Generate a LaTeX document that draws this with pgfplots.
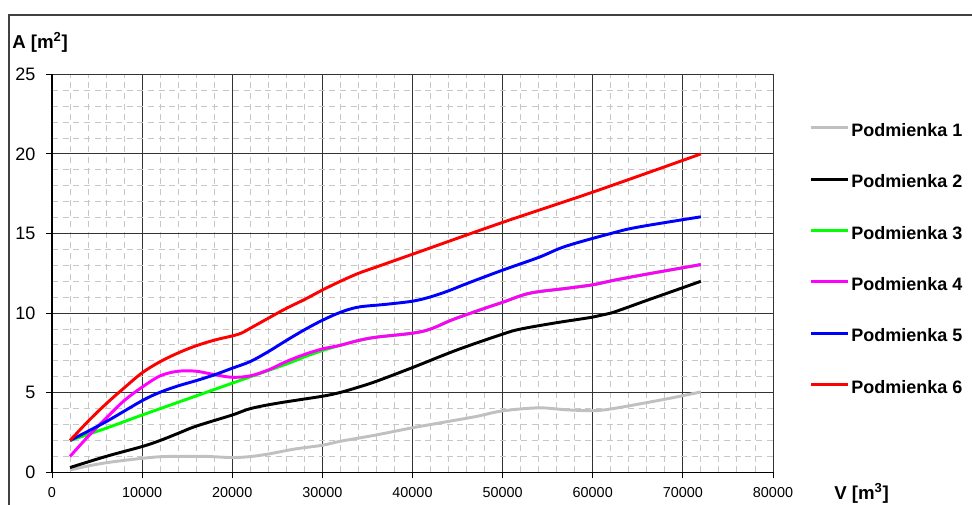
\documentclass[border=0pt]{standalone}
\usepackage{pgfplots}
\pgfplotsset{compat=1.18}
\usepackage{fontspec}
\setmainfont{Liberation Sans}
\definecolor{pgray}{RGB}{192,192,192}
\definecolor{pgreen}{RGB}{0,255,0}
\definecolor{pmag}{RGB}{255,0,255}
\definecolor{pblue}{RGB}{0,0,255}
\definecolor{pred}{RGB}{255,0,0}
\begin{document}
\begin{tikzpicture}
\useasboundingbox (0,0) rectangle (729pt,378.75pt);
\draw[black!75, line width=1.4pt] (6.75pt,-5pt) -- (6.75pt,367.5pt) -- (740pt,367.5pt);
\begin{axis}[
  at={(39pt,24.5pt)}, anchor=south west,
  scale only axis, width=540.75pt, height=298.5pt,
  xmin=0, xmax=80000, ymin=0, ymax=25,
  xtick={0,10000,...,80000}, ytick={0,5,...,25},
  minor x tick num=4, minor y tick num=4,
  grid=both,
  major grid style={black!80, line width=0.7pt},
  minor grid style={black!22, line width=0.7pt, dash pattern=on 4.5pt off 3.5pt},
  axis x line*=bottom, axis y line*=left,
  axis line style={black, line width=0.9pt, -},
  tick align=outside, major tick length=4.5pt, minor tick length=0pt,
  tick style={black, line width=0.7pt},
  scaled x ticks=false,
  /pgf/number format/assume math mode=true,
  xticklabel={\pgfmathprintnumber[1000 sep={}]{\tick}},
  x tick label style={font=\fontsize{10.8}{12}\selectfont, yshift=-3pt},
  y tick label style={font=\fontsize{13.5}{15}\selectfont, xshift=-4.5pt},
  xlabel={V [m\textsuperscript{3}]},
  ylabel={A [m\textsuperscript{2}]},
  xlabel style={at={(rel axis cs:1.0846,-0.052)}, anchor=west, font=\fontsize{14}{16}\selectfont\bfseries, inner sep=0pt},
  ylabel style={at={(rel axis cs:-0.0555,1.081)}, anchor=west, rotate=-90, font=\fontsize{14}{16}\selectfont\bfseries, inner sep=0pt},
  legend cell align=left,
  legend style={at={(rel axis cs:1.0505,0.877)}, anchor=north west, draw=none, fill=none, inner sep=0pt,
    row sep=28.9pt, column sep=1.6pt, font=\fontsize{13.5}{14}\selectfont\bfseries,
    nodes={inner sep=0pt, text height=9.6pt, text depth=0pt}},
  legend image code/.code={\draw[#1] (0pt,1.5pt) -- (27.5pt,1.5pt);},
  every axis plot/.append style={line width=2.2pt, smooth, tension=0.55},
]
\addplot[pgray] coordinates {(2000,0.15) (4000,0.4) (6000,0.6) (8000,0.75) (10000,0.88) (12000,0.98) (14000,1.0) (17000,1.0) (20000,0.93) (22000,0.99) (24000,1.15) (27000,1.47) (30000,1.7) (32000,1.95) (36000,2.35) (40000,2.8) (43000,3.1) (47000,3.5) (50000,3.86) (54000,4.05) (57000,3.93) (60000,3.87) (62000,3.98) (66000,4.38) (69000,4.7) (72000,5.05)};
\addlegendentry{Podmienka 1}
\addplot[black] coordinates {(2000,0.3) (6000,1.0) (10000,1.62) (12000,2.0) (14000,2.45) (16000,2.9) (20000,3.6) (22000,4.0) (25000,4.34) (30000,4.78) (32000,5.02) (34000,5.35) (36000,5.72) (40000,6.58) (45000,7.7) (50000,8.68) (52000,9.0) (56000,9.4) (60000,9.75) (62000,10.0) (66000,10.8) (69000,11.4) (72000,12.0)};
\addlegendentry{Podmienka 2}
\addplot[pgreen] coordinates {(2000,2.0) (6000,2.77) (10000,3.6) (12000,4.0) (16000,4.8) (20000,5.6) (22000,6.0) (26000,6.8) (28000,7.25) (30000,7.65) (32000,7.98) (34000,8.28) (36000,8.49) (40000,8.74) (42000,9.0) (44500,9.6) (48000,10.3) (50000,10.68) (53000,11.25) (57000,11.55) (60000,11.78) (62500,12.08) (66000,12.45) (72000,13.05)};
\addlegendentry{Podmienka 3}
\addplot[pmag] coordinates {(2000,1.0) (4000,2.25) (6000,3.4) (8000,4.5) (10000,5.35) (12000,6.06) (14000,6.35) (16000,6.35) (18000,6.14) (20000,5.97) (22000,6.06) (24000,6.43) (26000,6.96) (28000,7.4) (30000,7.75) (32000,7.98) (34000,8.28) (36000,8.49) (40000,8.74) (42000,9.0) (44500,9.6) (48000,10.3) (50000,10.68) (53000,11.25) (57000,11.55) (60000,11.78) (62500,12.08) (66000,12.45) (72000,13.05)};
\addlegendentry{Podmienka 4}
\addplot[pblue] coordinates {(2000,2.0) (6000,3.18) (10000,4.5) (12000,5.03) (14000,5.43) (16000,5.76) (18000,6.12) (20000,6.54) (22000,6.96) (24000,7.58) (26000,8.28) (28000,8.95) (30000,9.55) (32000,10.05) (34000,10.38) (37000,10.55) (40000,10.75) (42000,11.02) (44000,11.4) (46000,11.85) (50000,12.7) (54000,13.5) (57000,14.2) (62000,15.0) (65000,15.4) (72000,16.05)};
\addlegendentry{Podmienka 5}
\addplot[pred] coordinates {(2000,2.0) (4000,3.2) (6000,4.3) (8000,5.3) (10000,6.25) (12000,6.95) (14000,7.5) (16000,7.95) (18000,8.3) (20000,8.57) (21000,8.74) (22000,9.05) (24000,9.68) (26000,10.3) (28000,10.85) (30000,11.45) (32000,12.0) (34000,12.5) (36000,12.9) (40000,13.7) (50000,15.7) (60000,17.6) (72000,20.0)};
\addlegendentry{Podmienka 6}
\end{axis}
\end{tikzpicture}
\end{document}
